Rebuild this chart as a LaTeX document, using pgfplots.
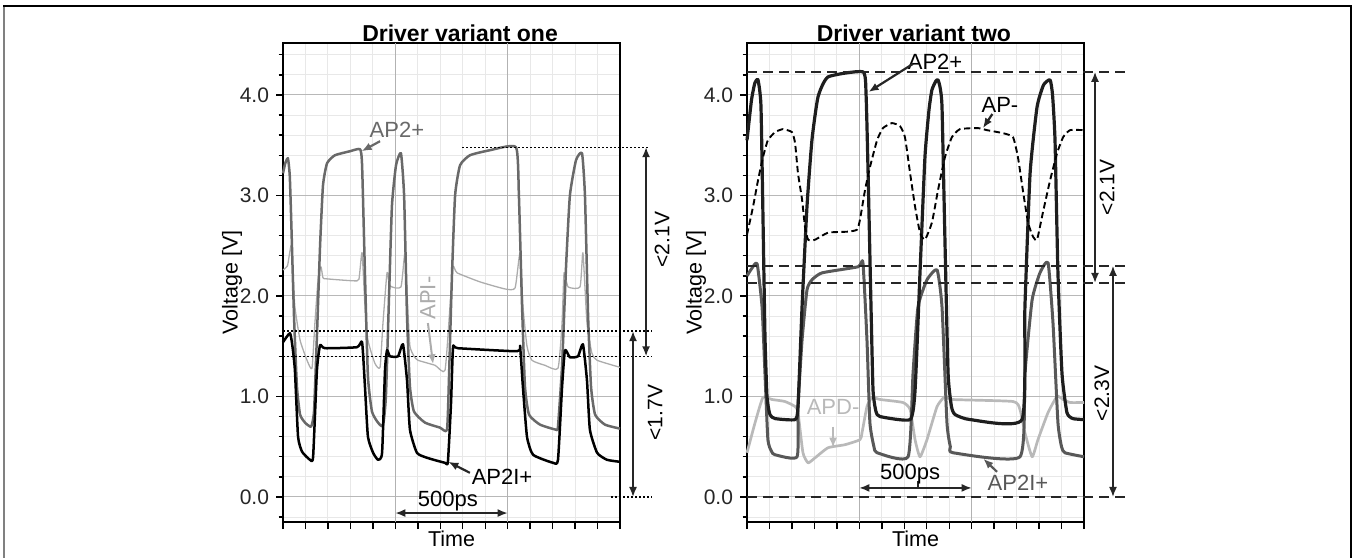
\documentclass[border=0pt]{standalone}
\usepackage{fontspec}
\setmainfont{Liberation Sans}
\usepackage{pgfplots}
\pgfplotsset{compat=1.18}
\usetikzlibrary{arrows.meta}
\definecolor{gA}{RGB}{105,105,105}
\definecolor{gB}{RGB}{172,172,172}
\definecolor{dA}{RGB}{30,30,30}
\definecolor{dB}{RGB}{88,88,88}
\definecolor{dC}{RGB}{185,185,185}
\pgfplotsset{
  panel/.style={
    scale only axis, width=168.5bp, height=239.5bp,
    xmin=0, xmax=1500, ymin=-0.249, ymax=4.517,
    xtick={0,100,...,1500}, xticklabels={},
    extra x ticks={500,1000}, extra x tick labels={},
    extra x tick style={major x grid style={draw=black!30, line width=0.5bp}},
    ytick={0,1,2,3,4}, yticklabels={0.0,1.0,2.0,3.0,4.0},
    minor ytick={-0.2,0.2,0.4,0.6,0.8,1.2,1.4,1.6,1.8,2.2,2.4,2.6,2.8,3.2,3.4,3.6,3.8,4.2,4.4},
    tick align=outside, xtick pos=bottom, ytick pos=left,
    major tick length=3.5bp, minor tick length=2.2bp,
    xmajorgrids, ymajorgrids, yminorgrids,
    major x grid style={draw=black!9, line width=0.5bp},
    major y grid style={draw=black!28, line width=0.5bp},
    minor y grid style={draw=black!9, line width=0.5bp},
    axis line style={line width=1.1bp},
    every tick/.style={black, line width=0.7bp},
    tick label style={font=\fontsize{10.5bp}{12bp}\selectfont, text=black!85},
    ylabel={Voltage [V]}, xlabel={Time},
    label style={font=\fontsize{10.75bp}{12bp}\selectfont},
    ylabel style={at={(axis description cs:-0.151,0.5)}, anchor=center},
    xlabel style={at={(axis description cs:0.5,-0.0345)}, anchor=center},
    clip=false,
  },
}
\tikzset{
  refdot/.style={black, line width=0.7bp, dash pattern=on 1bp off 1bp},
  refdash/.style={black!85, line width=1.1bp, dash pattern=on 5bp off 3bp},
  dim/.style={black!85, line width=0.8bp, {Latex[length=5bp,width=4bp]}-{Latex[length=5bp,width=4bp]}},
  ann/.style={font=\fontsize{11bp}{13bp}\selectfont},
  rot/.style={font=\fontsize{10.5bp}{12bp}\selectfont, rotate=90},
  crv/.style={line join=round, smooth, tension=0.3},
}
\begin{document}
\begin{tikzpicture}
\useasboundingbox (0,0) rectangle (676bp,279bp);
\draw[black!50, line width=1.2bp] (2bp,0) -- (2bp,276bp);
\draw[black, line width=1bp] (1.5bp,276bp) -- (675.3bp,276bp) -- (675.3bp,0);

% ---------------- left panel ----------------
\begin{axis}[panel, at={(141.5bp,18bp)}, anchor=south west]
\addplot[gB, line width=0.65bp, crv] coordinates {
(0,2.26) (20,2.30) (36,2.50) (45,2.20) (53,1.89) (76,1.56) (107,1.36) (129,1.28)
(142,1.73) (156,2.16) (169,2.29) (178,2.18) (196,2.17) (329,2.15) (340,2.20) (352,2.43)
(365,1.89) (378,1.56) (409,1.33) (432,1.29) (445,1.73) (463,2.23) (476,2.10) (525,2.09)
(543,2.43) (556,1.85) (565,1.50) (583,1.40) (601,1.36) (677,1.31) (721,1.26)
(743,1.89) (757,2.29) (775,2.23) (877,2.14) (988,2.07) (1033,2.08) (1055,2.43)
(1068,1.90) (1086,1.50) (1108,1.36) (1166,1.31) (1224,1.28) (1242,1.73) (1251,2.23)
(1269,2.09) (1322,2.09) (1335,2.43) (1353,1.73) (1375,1.43) (1398,1.36) (1500,1.29)};
\addplot[gA, line width=1.25bp, crv] coordinates {
(0,3.22) (10,3.32) (22,3.37) (30,3.20) (36,2.80) (49,1.80) (62,1.10) (76,0.82) (98,0.74)
(125,0.70) (138,0.85) (151,1.60) (165,2.50) (178,3.10) (196,3.32) (231,3.40)
(298,3.44) (343,3.46) (352,3.30) (365,2.20) (378,1.20) (396,0.85) (423,0.74)
(445,0.71) (458,1.00) (472,2.00) (485,2.90) (503,3.30) (525,3.42) (539,3.00)
(552,1.80) (565,1.10) (583,0.85) (632,0.74) (699,0.69) (730,0.67) (739,1.20)
(752,2.20) (766,3.00) (788,3.30) (832,3.40) (921,3.45) (1037,3.48) (1050,3.00)
(1064,1.90) (1077,1.10) (1095,0.82) (1144,0.72) (1215,0.67) (1224,0.70) (1242,1.30)
(1260,2.30) (1277,3.00) (1304,3.35) (1331,3.42) (1344,3.00) (1358,1.80) (1371,1.10)
(1389,0.82) (1433,0.72) (1500,0.68)};
\addplot[black, line width=1.25bp, crv] coordinates {
(0,1.54) (31,1.63) (42,1.50) (53,1.26) (67,0.60) (85,0.45) (120,0.37) (134,0.40)
(151,1.26) (165,1.51) (187,1.48) (329,1.49) (352,1.54) (365,1.09) (378,0.60)
(401,0.44) (423,0.37) (441,0.44) (454,1.26) (463,1.46) (476,1.40) (512,1.40)
(534,1.52) (552,1.16) (565,0.67) (596,0.44) (641,0.39) (721,0.34) (734,0.35)
(748,0.94) (757,1.49) (779,1.48) (1042,1.45) (1055,1.50) (1068,1.09) (1086,0.60)
(1113,0.42) (1202,0.34) (1224,0.37) (1242,1.09) (1255,1.46) (1277,1.39) (1313,1.40)
(1335,1.52) (1353,1.16) (1366,0.67) (1398,0.44) (1442,0.37) (1500,0.35)};
% reference lines and annotations
\draw[refdot] (axis cs:797,3.48) -- (axis cs:1625,3.48);
\draw[refdot] (axis cs:0,1.65) -- (axis cs:1642,1.65);
\draw[refdot] (axis cs:0,1.40) -- (axis cs:1642,1.40);
\draw[refdot] (axis cs:1460,0) -- (axis cs:1642,0);
\draw[dim] (axis cs:1616,3.48) -- (axis cs:1616,1.40);
\node[rot] at (axis cs:1687,2.56) {<2.1V};
\draw[dim] (axis cs:1558,1.65) -- (axis cs:1558,0);
\node[rot] at (axis cs:1656,0.84) {<1.7V};
\draw[dim] (axis cs:500,-0.16) -- (axis cs:1000,-0.16);
\node[ann] at (axis cs:734,-0.04) {500ps};
\node[ann, text=gA] at (axis cs:507,3.65) {AP2+};
\draw[gA, line width=1.1bp, -{Latex[length=5bp,width=4bp]}] (axis cs:432,3.54) -- (axis cs:350,3.44);
\node[rot, text=gB, font=\fontsize{11bp}{13bp}\selectfont] at (axis cs:645,1.98) {API-};
\draw[gB, line width=1bp, -{Latex[length=5bp,width=4bp]}] (axis cs:645,1.73) -- (axis cs:668,1.32);
\node[ann] at (axis cs:975,0.20) {AP2I+};
\draw[black!85, line width=1.1bp, -{Latex[length=5bp,width=4bp]}] (axis cs:832,0.24) -- (axis cs:736,0.35);
\node[font=\bfseries\fontsize{11.5bp}{13bp}\selectfont] at (axis cs:788,4.61) {Driver variant one};
\end{axis}

% ---------------- right panel ----------------
\begin{axis}[panel, at={(373.5bp,18bp)}, anchor=south west]
\addplot[dC, line width=1.35bp, crv] coordinates {
(0,0.44) (36,0.74) (71,0.99) (111,0.97) (169,0.95) (214,0.90) (227,0.84) (249,0.44)
(272,0.34) (303,0.39) (361,0.49) (436,0.52) (503,0.57) (512,0.64) (534,0.90)
(556,0.99) (592,0.97) (694,0.94) (726,0.87) (748,0.57) (770,0.40) (801,0.57)
(846,0.90) (881,1.00) (912,0.97) (1184,0.95) (1215,0.87) (1237,0.64) (1269,0.40)
(1295,0.57) (1340,0.84) (1380,1.00) (1407,0.97) (1438,0.94) (1500,0.94)};
\addplot[dB, line width=1.5bp, crv] coordinates {
(0,2.20) (20,2.27) (45,2.32) (67,1.89) (80,1.23) (93,0.57) (110,0.45) (125,0.42) (223,0.40)
(227,0.90) (245,1.56) (267,2.06) (289,2.16) (334,2.23) (494,2.29) (516,2.33)
(534,1.56) (547,0.74) (565,0.50) (579,0.44) (717,0.40) (739,1.23) (761,1.89) (801,2.16)
(846,2.26) (868,1.89) (890,0.74) (905,0.50) (917,0.44) (1215,0.40) (1237,1.23) (1269,1.96)
(1304,2.23) (1340,2.33) (1362,1.73) (1384,0.74) (1400,0.50) (1415,0.44) (1500,0.40)};
\addplot[dA, line width=1.6bp, crv] coordinates {
(0,3.55) (20,3.95) (35,4.12) (49,4.15) (62,3.90) (71,2.80) (80,1.60) (89,1.00)
(102,0.82) (125,0.78) (214,0.77) (227,0.90) (245,1.89) (267,2.89) (289,3.55)
(316,3.98) (361,4.18) (516,4.23) (530,4.00) (539,3.22) (552,1.89) (561,1.06)
(574,0.85) (592,0.80) (726,0.77) (748,1.06) (770,2.23) (792,3.38) (810,3.85)
(823,4.05) (841,4.14) (850,4.15) (859,4.08) (868,3.88) (881,2.56) (895,1.23)
(910,0.90) (926,0.82) (993,0.77) (1224,0.77) (1237,1.89) (1260,3.22) (1291,3.88)
(1320,4.10) (1349,4.15) (1360,4.00) (1371,3.55) (1384,2.23) (1402,1.23) (1424,0.84) (1450,0.78) (1500,0.77)};
\addplot[black, line width=0.95bp, dash pattern=on 3.2bp off 1.8bp, crv] coordinates {
(0,2.61) (27,2.89) (49,3.15) (71,3.38) (93,3.55) (125,3.63) (160,3.66) (200,3.63)
(214,3.52) (227,3.22) (245,2.96) (258,2.69) (272,2.56) (303,2.56) (361,2.63)
(450,2.64) (490,2.66) (503,2.76) (525,3.05) (547,3.28) (579,3.55) (605,3.67)
(645,3.72) (681,3.69) (703,3.58) (726,3.22) (748,2.89) (770,2.63) (792,2.56)
(823,2.73) (850,3.05) (881,3.38) (912,3.58) (948,3.66) (1028,3.67) (1068,3.65)
(1139,3.62) (1184,3.58) (1206,3.38) (1228,3.05) (1251,2.73) (1273,2.59) (1291,2.56)
(1317,2.83) (1349,3.15) (1380,3.42) (1407,3.58) (1438,3.65) (1500,3.65)};
% reference lines and annotations
\draw[refdash] (axis cs:0,4.23) -- (axis cs:1683,4.23);
\draw[refdash] (axis cs:0,2.30) -- (axis cs:1683,2.30);
\draw[refdash] (axis cs:0,2.13) -- (axis cs:1683,2.13);
\draw[refdash] (axis cs:0,0) -- (axis cs:1683,0);
\draw[dim] (axis cs:1549,4.23) -- (axis cs:1549,2.13);
\node[rot] at (axis cs:1602,3.08) {<2.1V};
\draw[dim] (axis cs:1629,2.30) -- (axis cs:1629,0);
\node[rot] at (axis cs:1580,1.03) {<2.3V};
\draw[dim] (axis cs:500,0.09) -- (axis cs:1000,0.09);
\draw[black!85, line width=0.8bp] (axis cs:761,0.09) -- (axis cs:761,0.16);
\node[ann] at (axis cs:726,0.23) {500ps};
\node[ann] at (axis cs:837,4.33) {AP2+};
\draw[black!85, line width=1.1bp, -{Latex[length=5bp,width=4bp]}] (axis cs:739,4.31) -- (axis cs:541,4.03);
\node[ann] at (axis cs:1126,3.90) {AP-};
\draw[black!85, line width=1.1bp, -{Latex[length=5bp,width=4bp]}] (axis cs:1092,3.81) -- (axis cs:1050,3.67);
\node[ann, text=dC] at (axis cs:383,0.90) {APD-};
\draw[dC, line width=1.1bp, -{Latex[length=5bp,width=4bp]}] (axis cs:383,0.70) -- (axis cs:383,0.49);
\node[ann, text=dB] at (axis cs:1206,0.14) {AP2I+};
\draw[dB, line width=1.1bp, -{Latex[length=5bp,width=4bp]}] (axis cs:1113,0.25) -- (axis cs:1052,0.38);
\node[font=\bfseries\fontsize{11.5bp}{13bp}\selectfont] at (axis cs:743,4.61) {Driver variant two};
\end{axis}
\end{tikzpicture}
\end{document}
